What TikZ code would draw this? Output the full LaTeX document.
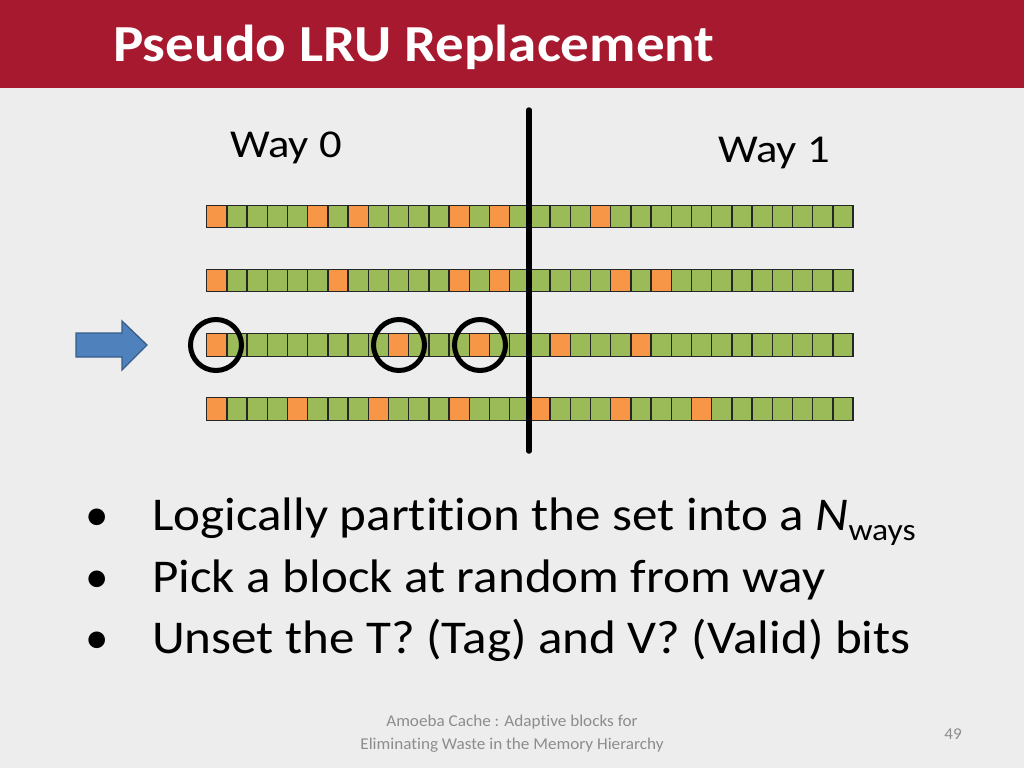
\documentclass[tikz,border=0pt]{standalone}
\usepackage{fontspec}
\setmainfont{Carlito}[Ligatures=NoCommon]
\definecolor{barred}{HTML}{A6192E}
\definecolor{bg}{HTML}{EDEDED}
\definecolor{cellgreen}{HTML}{9BBB59}
\definecolor{cellorange}{HTML}{F79646}
\definecolor{arrowblue}{HTML}{4F81BD}
\definecolor{arrowedge}{HTML}{385D8A}
\definecolor{footgray}{HTML}{8C8C8C}
\newcommand{\wide}[2][1.086]{\scalebox{#1}[1]{#2}}
\tikzset{
  cellg/.style={fill=cellgreen,draw=black!85,line width=1.3pt},
  cello/.style={fill=cellorange,draw=black!85,line width=1.3pt},
  ring/.style={draw=black,line width=5pt},
  bullettext/.style={anchor=base west,inner sep=0pt,font=\fontsize{47}{56}\selectfont},
  waylabel/.style={anchor=base west,inner sep=0pt,font=\fontsize{39.5}{48}\selectfont},
  foot/.style={inner sep=0pt,text=footgray,font=\fontsize{16.5}{23}\selectfont,align=center}
}
\begin{document}
\begin{tikzpicture}[x=1pt,y=-1pt]
\useasboundingbox (0,0) rectangle (1024,768);
\fill[bg] (0,0) rectangle (1024,768);
\fill[barred] (0,0) rectangle (1024,88);
\node[anchor=base west,inner sep=0pt,text=white,font=\bfseries\fontsize{52}{62}\selectfont] (title) at (113,61) {\wide[1.097]{Pseudo LRU Replacement}};
\node[waylabel] (way0) at (230,157) {\wide[1.13]{Way 0}};
\node[waylabel] (way1) at (718,162) {\wide[1.13]{Way 1}};
% cells
\def\cw{20.2}
\def\ch{22.5}
\def\xo{206.7}
\foreach \r/\yc/\lst in {1/216.5/{0,5,7,12,14,19},2/280.5/{0,6,12,14,20,22},3/345/{0,9,13,17,21},4/409/{0,4,8,12,16,20,24}}{
  \foreach \i in {0,...,31}{
    \draw[cellg] ({\xo+\i*\cw},{\yc-\ch/2}) rectangle ++(\cw,\ch);
  }
  \foreach \i in \lst{
    \draw[cello] ({\xo+\i*\cw},{\yc-\ch/2}) rectangle ++(\cw,\ch);
  }
}
% divider
\coordinate (divtop) at (529,110);
\coordinate (divbot) at (529,451);
\draw[line width=5.5pt,line cap=round] (divtop) -- (divbot);
% circles
\draw[ring] (216,345) circle (25.5);
\draw[ring] (399,345) circle (25.5);
\draw[ring] (480,345) circle (25.5);
% arrow
\draw[fill=arrowblue,draw=arrowedge,line width=1.3pt,line join=miter]
  (76,333) -- (122,333) -- (122,321) -- (147,345) -- (122,370) -- (122,357) -- (76,357) -- cycle;
% bullets
\node[bullettext] (b1) at (85,530) {•};
\node[bullettext] (t1) at (152,530) {\wide{Logically partition the set into a \textit{N}\raisebox{-0.22em}{\fontsize{31}{37}\selectfont ways}}};
\node[bullettext] (b2) at (85,592) {•};
\node[bullettext] (t2) at (152,592) {\wide{Pick a block at random from way}};
\node[bullettext] (b3) at (85,653) {•};
\node[bullettext] (t3) at (152,653) {\wide{Unset the T? (Tag) and V? (Valid) bits}};
% footer
\node[foot] (footer) at (512,734) {\wide[1.04]{Amoeba Cache : Adaptive blocks for}\\\wide[1.04]{Eliminating Waste in the Memory Hierarchy}};
\node[foot] (pnum) at (953,734) {\wide[1.04]{49}};
\end{tikzpicture}
\end{document}
